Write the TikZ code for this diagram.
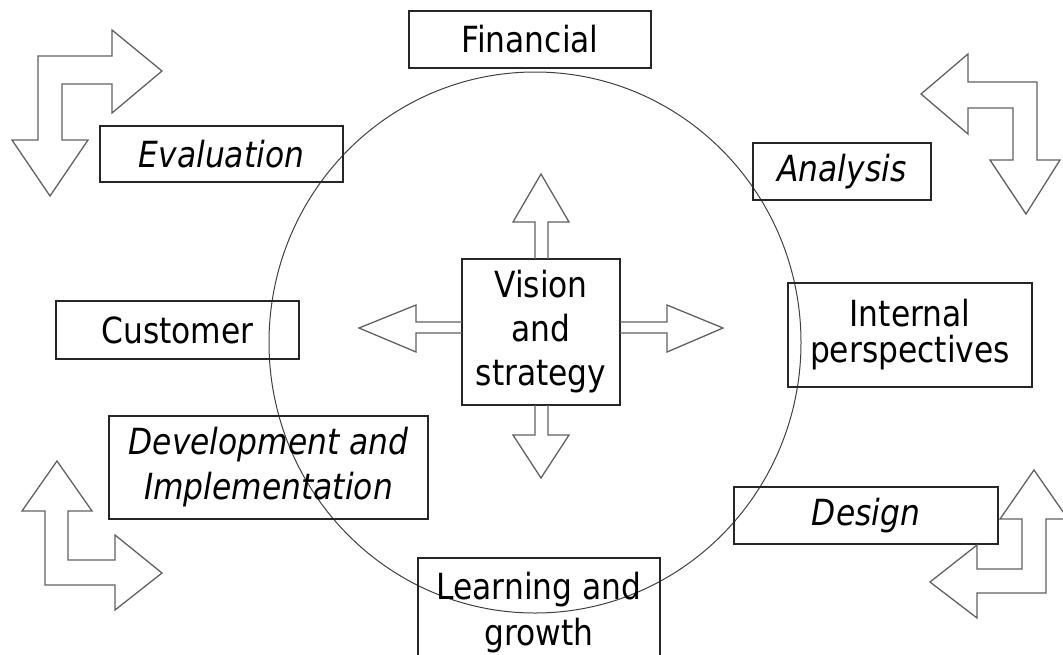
\documentclass[tikz,border=0pt]{standalone}
\usepackage{fontspec}
\setmainfont{DejaVu Sans}[FakeStretch=0.87]
\begin{document}
\begin{tikzpicture}[x=1pt,y=-1pt,
  box/.style={draw=black!85, line width=1.2pt, inner sep=0pt, align=center,
    font=\fontsize{36}{44}\selectfont},
  blockarrow/.style={draw=black!62, line width=1.3pt, line join=miter},
  ring/.style={draw=black!75, line width=1pt},
]
\useasboundingbox (0,0) rectangle (1063,654);

% the surrounding circle
\draw[ring] (535,342.5) ellipse [x radius=266pt, y radius=270.5pt];

% perspective boxes
\node[box, minimum width=242pt, minimum height=57pt] (fin) at (530,39.5) {Financial};
\node[box, minimum width=243pt, minimum height=56pt] (eval) at (221.5,154) {\itshape Evaluation};
\node[box, minimum width=178pt, minimum height=57pt] (ana) at (842,171.5) {\itshape Analysis};
\node[box, minimum width=243pt, minimum height=58pt] (cust) at (177.5,330) {Customer};
\node[box, minimum width=244pt, minimum height=104pt,
  font=\fontsize{36}{36}\selectfont] (intl) at (910,335) {Internal\\perspectives};
\node[box, minimum width=319pt, minimum height=103pt,
  font=\fontsize{36}{45}\selectfont\itshape] (dev) at (268.5,467.5) {Development and\\Implementation};
\node[box, minimum width=264pt, minimum height=57pt] (des) at (866,515.5) {\itshape Design};
\node[box, minimum width=242pt, minimum height=110pt,
  font=\fontsize{36}{46}\selectfont] (learn) at (539,613) {Learning and\\growth};
\node[box, minimum width=158pt, minimum height=146pt] (vis) at (541,332) {Vision\\and\\strategy};

% block arrows leaving the central box
\draw[blockarrow] (548,259) -- (548,222) -- (569,222) -- (541,174) -- (513,222) -- (535,222) -- (535,259);
\draw[blockarrow] (535,405) -- (535,435) -- (513,435) -- (541,478) -- (569,435) -- (548,435) -- (548,405);
\draw[blockarrow] (462,322) -- (416,322) -- (416,305) -- (359,328) -- (416,352) -- (416,333) -- (462,333);
\draw[blockarrow] (620,322) -- (667,322) -- (667,305) -- (723,328) -- (667,352) -- (667,333) -- (620,333);

% bent double arrows in the corners
\draw[blockarrow] (50,196) -- (88,140) -- (62,140) -- (62,84) -- (112,84) -- (112,113)
  -- (162,71) -- (112,30) -- (112,56) -- (38,56) -- (38,140) -- (12,140) -- cycle;
\draw[blockarrow] (921,94) -- (968,54) -- (968,82) -- (1037,82) -- (1037,160) -- (1060,160)
  -- (1026,214) -- (990,160) -- (1013,160) -- (1013,108) -- (968,108) -- (968,134) -- cycle;
\draw[blockarrow] (57,461) -- (92,511) -- (68,511) -- (68,560) -- (115,560) -- (115,535)
  -- (162,573) -- (115,610) -- (115,585) -- (45,585) -- (45,511) -- (22,511) -- cycle;
\draw[blockarrow] (1034,470) -- (1068,519) -- (1046,519) -- (1046,593) -- (977,593) -- (977,618)
  -- (930,582) -- (977,545) -- (977,569) -- (1022,569) -- (1022,519) -- (1000,519) -- cycle;
\end{tikzpicture}
\end{document}
